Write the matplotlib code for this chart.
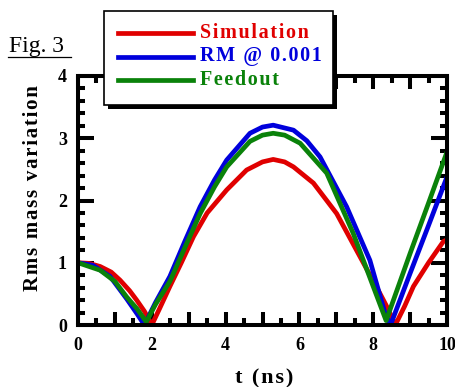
import matplotlib
matplotlib.use("Agg")
import matplotlib.pyplot as plt
from matplotlib.ticker import MultipleLocator, FuncFormatter
from matplotlib.patches import Rectangle
from matplotlib.lines import Line2D
from matplotlib.transforms import Affine2D
from matplotlib.font_manager import FontProperties

# values
t_sim = [0, 0.3, 0.6, 0.9, 1.14, 1.4, 1.59, 1.8, 2.0, 2.2, 2.49, 2.8, 3.13, 3.5, 4.03, 4.57, 5.0, 5.29, 5.6, 5.84, 6.38, 7.01, 7.64, 8.18, 8.4, 8.6, 8.85, 9.09, 9.5, 9.9, 10]
v_sim = [1.0, 0.99, 0.94, 0.85, 0.72, 0.55, 0.40, 0.22, 0.0, 0.25, 0.62, 1.0, 1.42, 1.8, 2.17, 2.49, 2.62, 2.66, 2.62, 2.54, 2.28, 1.79, 1.10, 0.51, 0.26, 0.0, 0.3, 0.62, 1.0, 1.34, 1.37]

t_rm = [0, 0.4, 0.87, 1.32, 1.6, 1.8, 2.1, 2.49, 2.9, 3.31, 3.7, 4.03, 4.66, 5.0, 5.29, 5.84, 6.2, 6.56, 7.28, 7.91, 8.32, 8.47, 9.0, 9.5, 10]
v_rm = [1.0, 0.96, 0.78, 0.42, 0.18, 0.0, 0.36, 0.78, 1.35, 1.9, 2.33, 2.65, 3.08, 3.18, 3.21, 3.13, 2.96, 2.70, 1.90, 1.04, 0.19, 0.0, 0.83, 1.6, 2.38]

t_fo = [0, 0.6, 1.0, 1.32, 1.6, 1.85, 2.1, 2.49, 2.9, 3.31, 3.7, 4.03, 4.66, 5.0, 5.29, 5.6, 6.02, 6.74, 7.46, 8.0, 8.35, 9.0, 9.5, 10]
v_fo = [1.0, 0.88, 0.7, 0.45, 0.26, 0.05, 0.33, 0.7, 1.25, 1.79, 2.22, 2.54, 2.95, 3.05, 3.08, 3.05, 2.92, 2.44, 1.47, 0.62, 0.07, 1.15, 1.96, 2.78]

labels = ["Simulation", "RM @ 0.001", "Feedout"]
colors = ["#e00000", "#0000dc", "#0a820a"]

SERIF = ["Liberation Serif", "DejaVu Serif"]
TICK_W = 2.9


def spaced(s):
    return "\u200a".join(s)


fig = plt.figure(figsize=(4.56, 3.87), dpi=100)
ax = fig.add_axes([78 / 456, 1 - 325 / 387, 369 / 456, 249 / 387])

for t, v, c in zip([t_sim, t_rm, t_fo], [v_sim, v_rm, v_fo], colors):
    ax.plot(t, v, color=c, lw=3.4, solid_joinstyle="round", solid_capstyle="butt")

ax.set_xlim(0, 10)
ax.set_ylim(0, 4)
ax.xaxis.set_major_locator(MultipleLocator(1))
ax.xaxis.set_minor_locator(MultipleLocator(0.5))
ax.xaxis.set_major_formatter(FuncFormatter(lambda v, p: f"{v:.0f}" if round(v) % 2 == 0 else ""))
ax.yaxis.set_major_locator(MultipleLocator(1))
ax.yaxis.set_minor_locator(MultipleLocator(0.2))

for sp in ax.spines.values():
    sp.set_linewidth(TICK_W)
ax.tick_params(which="both", direction="in", top=True, right=True, width=TICK_W, color="black")
ax.tick_params(axis="x", which="major", length=9.4, pad=9)
ax.tick_params(axis="y", which="major", length=11.5, pad=8)
ax.tick_params(which="minor", length=5)
tick_font = FontProperties(family=SERIF, weight="bold", size=13)
for lab in ax.get_xticklabels() + ax.get_yticklabels():
    lab.set_fontproperties(tick_font)

ax.set_xlabel(spaced("t (ns)"), family=SERIF, fontweight="bold", fontsize=16)
ax.xaxis.set_label_coords(0.504, -0.213)
ax.xaxis.label.set_verticalalignment("center")
ax.set_ylabel(spaced("Rms mass variation"), family=SERIF, fontweight="bold", fontsize=15)
ax.yaxis.set_label_coords(-0.122, 0.55)
ax.yaxis.label.set_verticalalignment("center")

# pixel coordinates (from top-left) for the annotations
px = Affine2D().scale(1 / 456, -1 / 387).translate(0, 1) + fig.transFigure

# legend box with solid shadow
fig.add_artist(Rectangle((108, 15), 229, 94, transform=px, facecolor="black", edgecolor="none"))
fig.add_artist(Rectangle((104, 11), 229, 94, transform=px, facecolor="white", edgecolor="black", lw=1.2))
for i, (lab, c) in enumerate(zip(labels, colors)):
    y = 33 + i * 23.5
    fig.add_artist(Line2D([118, 193], [y, y], transform=px, color=c, lw=3.4))
    fig.text(200, y, spaced(lab), transform=px, color=c, family=SERIF, fontweight="bold",
             fontsize=14.5, va="center", ha="left")

# figure tag
fig.text(9, 52, "Fig. 3", transform=px, family=SERIF, fontsize=17, va="baseline", ha="left")
fig.add_artist(Line2D([8, 71], [57, 57], transform=px, color="black", lw=0.9))

fig.savefig("out.png", dpi=100)
